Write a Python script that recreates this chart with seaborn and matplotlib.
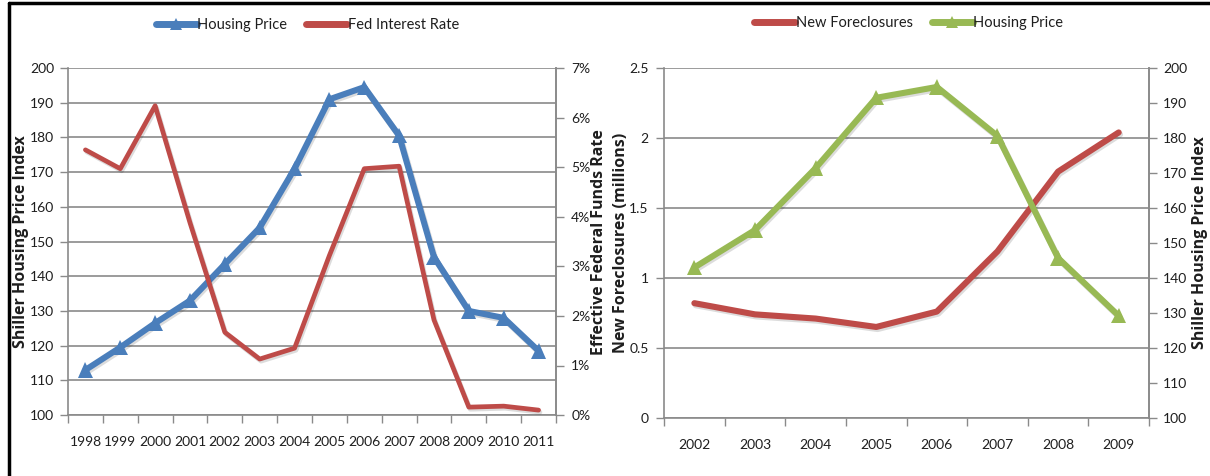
import matplotlib
matplotlib.use("Agg")
import matplotlib.pyplot as plt
import matplotlib.patheffects as pe
from matplotlib.lines import Line2D
from matplotlib.ticker import FuncFormatter, MultipleLocator
import numpy as np
import seaborn as sns

# left panel: housing price vs fed funds rate
years_left = [1998, 1999, 2000, 2001, 2002, 2003, 2004, 2005, 2006, 2007, 2008, 2009, 2010, 2011]
housing_left = [113, 119.5, 126.5, 133, 143.5, 154, 171, 191, 194.5, 180.5, 145.5, 130, 128, 118.5]
fed_rate = [5.35, 4.97, 6.24, 3.88, 1.67, 1.13, 1.35, 3.22, 4.97, 5.02, 1.92, 0.16, 0.18, 0.10]

# right panel: new foreclosures vs housing price
years_right = [2002, 2003, 2004, 2005, 2006, 2007, 2008, 2009]
foreclosures = [0.82, 0.74, 0.71, 0.65, 0.76, 1.19, 1.76, 2.04]
housing_right = [143, 153.7, 171.4, 191.5, 194.6, 180.6, 145.7, 129.2]

BLUE = "#4a7ebb"
RED = "#be4b48"
GREEN = "#98b954"
GRID = "#8a8a8a"
TEXT = "#1e1e1e"

sns.set_theme(style="white")
plt.rcParams["font.family"] = ["Lato", "DejaVu Sans"]
plt.rcParams["axes.edgecolor"] = GRID

shadow = [pe.SimpleLineShadow(offset=(1.0, -1.5), alpha=0.15, shadow_color="k"), pe.Normal()]
TICK_FS = 10
XTICK_FS = 10
LEGEND_FS = 10.5
LABEL_KW = dict(fontsize=11.5, fontweight="bold", family=["Open Sans", "DejaVu Sans"], color=TEXT)


def style_category_axis(ax, years):
    ax.set_xlim(years[0] - 0.5, years[-1] + 0.5)
    ax.set_xticks(np.arange(years[0] - 0.5, years[-1] + 1, 1.0))
    ax.set_xticklabels([])
    ax.set_xticks(years, minor=True)
    ax.set_xticklabels([str(y) for y in years], minor=True)
    ax.tick_params(axis="x", which="major", direction="out", length=6, width=1, color=GRID, bottom=True)
    ax.tick_params(axis="x", which="minor", length=0, pad=15, labelsize=XTICK_FS, labelcolor=TEXT)
    ax.set_xlabel("")


def style_spines(ax, left=True, right=True):
    ax.spines["top"].set_visible(False)
    ax.spines["left"].set_visible(left)
    ax.spines["right"].set_visible(right)
    for s in ax.spines.values():
        s.set_color(GRID)
        s.set_linewidth(1.2)


def place_ylabel(ax, text, x):
    # x is the label centre in axes coordinates
    ax.set_ylabel(text, **LABEL_KW)
    ax.yaxis.set_label_coords(x, 0.5)
    ax.yaxis.label.set_va("center")


fig = plt.figure(figsize=(12.1, 4.76), dpi=100)

# ---------------- left chart ----------------
ax1 = fig.add_axes([0.0562, 0.128, 0.4033, 0.729])
ax1b = ax1.twinx()

sns.lineplot(x=years_left, y=housing_left, ax=ax1, color=BLUE, lw=4.4, marker="^",
             markersize=11, markeredgewidth=0, path_effects=shadow, zorder=3)
sns.lineplot(x=years_left, y=fed_rate, ax=ax1b, color=RED, lw=3.4, path_effects=shadow)

ax1.set_ylim(100, 200)
ax1.yaxis.set_major_locator(MultipleLocator(10))
ax1.grid(axis="y", color=GRID, lw=1.2)
ax1.grid(axis="x", visible=False)
ax1.tick_params(axis="y", direction="out", length=6, width=1, color=GRID, left=True,
                pad=4, labelsize=TICK_FS, labelcolor=TEXT)
place_ylabel(ax1, "Shiller Housing Price Index", -0.097)
style_category_axis(ax1, years_left)
style_spines(ax1)

ax1b.set_ylim(0, 7)
ax1b.yaxis.set_major_locator(MultipleLocator(1))
ax1b.yaxis.set_major_formatter(FuncFormatter(lambda v, p: f"{v:.0f}%"))
ax1b.tick_params(axis="y", direction="out", length=6, width=1, color=GRID, right=True,
                 pad=5, labelsize=TICK_FS, labelcolor=TEXT)
place_ylabel(ax1b, "Effective Federal Funds Rate", 1.089)
ax1b.grid(False)
style_spines(ax1b, left=False)
ax1b.spines["bottom"].set_visible(False)

h1 = [Line2D([], [], color=BLUE, lw=5, marker="^", markersize=9, markeredgewidth=0),
      Line2D([], [], color=RED, lw=5)]
fig.legend(h1, ["Housing Price", "Fed Interest Rate"], loc="center", bbox_to_anchor=(0.254, 0.947),
           ncol=2, frameon=False, fontsize=LEGEND_FS, handlelength=2.8, handletextpad=0.05,
           columnspacing=1.3, labelcolor=TEXT)

# ---------------- right chart ----------------
ax2 = fig.add_axes([0.5488, 0.122, 0.4008, 0.735])
ax2b = ax2.twinx()

sns.lineplot(x=years_right, y=foreclosures, ax=ax2, color=RED, lw=4.4, path_effects=shadow)
sns.lineplot(x=years_right, y=housing_right, ax=ax2b, color=GREEN, lw=4.4, marker="^",
             markersize=11, markeredgewidth=0, path_effects=shadow)

ax2.set_ylim(0, 2.5)
ax2.yaxis.set_major_locator(MultipleLocator(0.5))
ax2.yaxis.set_major_formatter(FuncFormatter(lambda v, p: f"{v:g}"))
ax2.grid(axis="y", color=GRID, lw=1.2)
ax2.grid(axis="x", visible=False)
ax2.tick_params(axis="y", direction="out", length=6, width=1, color=GRID, left=True,
                pad=5, labelsize=TICK_FS, labelcolor=TEXT)
place_ylabel(ax2, "New Foreclosures (millions)", -0.089)
style_category_axis(ax2, years_right)
style_spines(ax2)

ax2b.set_ylim(100, 200)
ax2b.yaxis.set_major_locator(MultipleLocator(10))
ax2b.tick_params(axis="y", direction="out", length=6, width=1, color=GRID, right=True,
                 pad=4, labelsize=TICK_FS, labelcolor=TEXT)
place_ylabel(ax2b, "Shiller Housing Price Index", 1.106)
ax2b.grid(False)
style_spines(ax2b, left=False)
ax2b.spines["bottom"].set_visible(False)

h2 = [Line2D([], [], color=RED, lw=5),
      Line2D([], [], color=GREEN, lw=5, marker="^", markersize=9, markeredgewidth=0)]
fig.legend(h2, ["New Foreclosures", "Housing Price"], loc="center", bbox_to_anchor=(0.751, 0.952),
           ncol=2, frameon=False, fontsize=LEGEND_FS, handlelength=2.8, handletextpad=0.05,
           columnspacing=1.3, labelcolor=TEXT)

# black frame along the top and left edges
fig.add_artist(Line2D([0.0075, 1.0], [0.993, 0.993], color="black", lw=2.5, transform=fig.transFigure))
fig.add_artist(Line2D([0.0075, 0.0075], [0.0, 0.993], color="black", lw=2.5, transform=fig.transFigure))

fig.savefig("out.png", dpi=100, facecolor="white")
